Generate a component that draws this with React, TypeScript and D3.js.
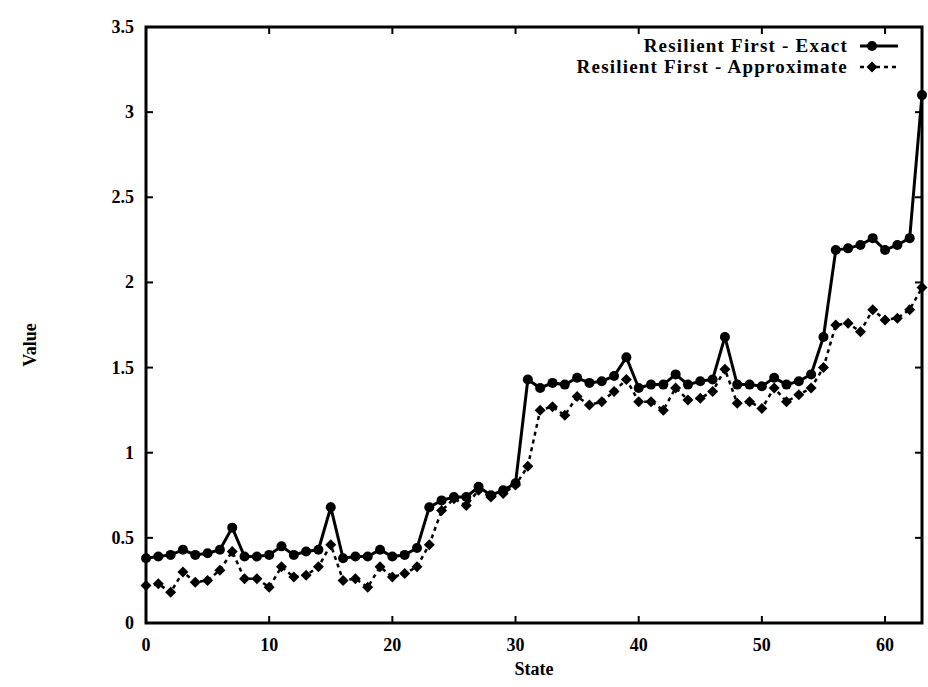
import React from "react";
import * as d3 from "d3";

const states: number[] = d3.range(0, 64);

const exactValues: number[] = [
  0.38, 0.39, 0.40, 0.43, 0.40, 0.41, 0.43, 0.56,
  0.39, 0.39, 0.40, 0.45, 0.40, 0.42, 0.43, 0.68,
  0.38, 0.39, 0.39, 0.43, 0.39, 0.40, 0.44, 0.68,
  0.72, 0.74, 0.74, 0.80, 0.75, 0.78, 0.82, 1.43,
  1.38, 1.41, 1.40, 1.44, 1.41, 1.42, 1.45, 1.56,
  1.38, 1.40, 1.40, 1.46, 1.40, 1.42, 1.43, 1.68,
  1.40, 1.40, 1.39, 1.44, 1.40, 1.42, 1.46, 1.68,
  2.19, 2.20, 2.22, 2.26, 2.19, 2.22, 2.26, 3.10,
];

const approxValues: number[] = [
  0.22, 0.23, 0.18, 0.30, 0.24, 0.25, 0.31, 0.42,
  0.26, 0.26, 0.21, 0.33, 0.27, 0.28, 0.33, 0.46,
  0.25, 0.26, 0.21, 0.33, 0.27, 0.29, 0.33, 0.46,
  0.66, 0.73, 0.69, 0.78, 0.74, 0.76, 0.81, 0.92,
  1.25, 1.27, 1.22, 1.33, 1.28, 1.30, 1.36, 1.43,
  1.30, 1.30, 1.25, 1.38, 1.31, 1.32, 1.36, 1.49,
  1.29, 1.30, 1.26, 1.38, 1.30, 1.34, 1.38, 1.50,
  1.75, 1.76, 1.71, 1.84, 1.78, 1.79, 1.84, 1.97,
];

const xTicks: number[] = [0, 10, 20, 30, 40, 50, 60];
const yTicks: number[] = [0, 0.5, 1, 1.5, 2, 2.5, 3, 3.5];
const yTickLabels: string[] = ["0", "0.5", "1", "1.5", "2", "2.5", "3", "3.5"];
const seriesNames: string[] = ["Resilient First - Exact", "Resilient First - Approximate"];

const W = 928;
const H = 687;
const left = 146;
const right = 922;
const top = 27;
const bottom = 623;
const FONT = "'Liberation Serif', 'DejaVu Serif', serif";

export default function App() {
  const x = d3.scaleLinear().domain([0, 63]).range([left, right]);
  const y = d3.scaleLinear().domain([0, 3.5]).range([bottom, top]);

  const line = d3
    .line<number>()
    .x((_, i) => x(states[i]))
    .y((d) => y(d));

  const diamond = (cx: number, cy: number, r: number) =>
    `M${cx},${cy - r}L${cx + r},${cy}L${cx},${cy + r}L${cx - r},${cy}Z`;

  const tickLen = 7;

  return (
    <svg
      width={W}
      height={H}
      viewBox={`0 0 ${W} ${H}`}
      style={{ position: "absolute", left: 0, top: 0, background: "#fff" }}
    >
      <rect x={0} y={0} width={W} height={H} fill="#fff" />

      {xTicks.map((t) => (
        <g key={"xt" + t}>
          <line x1={x(t)} x2={x(t)} y1={bottom} y2={bottom - tickLen} stroke="#000" strokeWidth={2} />
          <line x1={x(t)} x2={x(t)} y1={top} y2={top + tickLen} stroke="#000" strokeWidth={2} />
          <text
            x={x(t)}
            y={bottom + 28}
            textAnchor="middle"
            fontFamily={FONT}
            fontWeight="bold"
            fontSize={18}
            fill="#000"
          >
            {t}
          </text>
        </g>
      ))}
      {yTicks.map((t, i) => (
        <g key={"yt" + t}>
          <line x1={left} x2={left + tickLen} y1={y(t)} y2={y(t)} stroke="#000" strokeWidth={2} />
          <line x1={right} x2={right - tickLen} y1={y(t)} y2={y(t)} stroke="#000" strokeWidth={2} />
          <text
            x={left - 12}
            y={y(t) + 6}
            textAnchor="end"
            fontFamily={FONT}
            fontWeight="bold"
            fontSize={18}
            fill="#000"
          >
            {yTickLabels[i]}
          </text>
        </g>
      ))}

      <rect
        x={left}
        y={top}
        width={right - left}
        height={bottom - top}
        fill="none"
        stroke="#000"
        strokeWidth={3}
      />

      <path
        d={line(approxValues) || ""}
        fill="none"
        stroke="#000"
        strokeWidth={2.5}
        strokeDasharray="4,4"
      />
      {approxValues.map((v, i) => (
        <path key={"am" + i} d={diamond(x(states[i]), y(v), 5.5)} fill="#000" />
      ))}

      <path d={line(exactValues) || ""} fill="none" stroke="#000" strokeWidth={3} />
      {exactValues.map((v, i) => (
        <circle key={"em" + i} cx={x(states[i])} cy={y(v)} r={5} fill="#000" />
      ))}

      <text
        x={848}
        y={52}
        textAnchor="end"
        fontFamily={FONT}
        fontWeight="bold"
        fontSize={19}
        letterSpacing={1.2}
        fill="#000"
      >
        {seriesNames[0]}
      </text>
      <line x1={860} x2={898} y1={46} y2={46} stroke="#000" strokeWidth={3} />
      <circle cx={872} cy={46} r={5} fill="#000" />
      <text
        x={848}
        y={73}
        textAnchor="end"
        fontFamily={FONT}
        fontWeight="bold"
        fontSize={19}
        letterSpacing={1.2}
        fill="#000"
      >
        {seriesNames[1]}
      </text>
      <line
        x1={860}
        x2={898}
        y1={67}
        y2={67}
        stroke="#000"
        strokeWidth={2.5}
        strokeDasharray="4,4"
      />
      <path d={diamond(872, 67, 5.5)} fill="#000" />

      <text
        x={(left + right) / 2}
        y={bottom + 52}
        textAnchor="middle"
        fontFamily={FONT}
        fontWeight="bold"
        fontSize={18}
        fill="#000"
      >
        State
      </text>
      <text
        transform={`translate(36, ${(top + bottom) / 2 + 20}) rotate(-90)`}
        textAnchor="middle"
        fontFamily={FONT}
        fontWeight="bold"
        fontSize={18}
        fill="#000"
      >
        Value
      </text>
    </svg>
  );
}
